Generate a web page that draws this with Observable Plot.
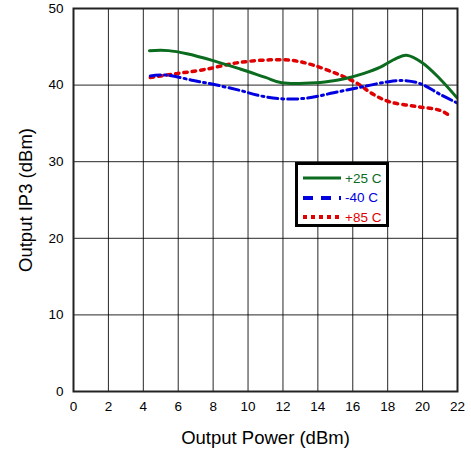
<!DOCTYPE html>
<html><head><meta charset="utf-8">
<script src="https://cdn.jsdelivr.net/npm/d3@7"></script>
<script src="https://cdn.jsdelivr.net/npm/@observablehq/plot@0.6"></script>
<style>
body{margin:0;background:#fff;font-family:"Liberation Sans",Arial,sans-serif;}
#wrap{position:relative;width:471px;height:450px;}
#legend{position:absolute;left:295px;top:162px;width:88px;height:59px;border:3px solid #000;background:#fff;font-size:13.5px;}
.row{position:absolute;left:0;height:16px;display:flex;align-items:center;}
.row svg{margin-left:5px;margin-right:4px;}
</style></head>
<body><div id="wrap"><div id="chart"></div>
<div id="legend"></div></div>
<script>
const seriesNames = ["+25 C", "-40 C", "+85 C"];
const seriesColors = ["#0b6b1e", "#0000e0", "#e00000"];
const xTicks = [0,2,4,6,8,10,12,14,16,18,20,22];
const yTicks = [0,10,20,30,40,50];

const power25 = [4.35, 5.44, 6.5, 8.0, 9.55, 11.0, 11.93, 13.9, 15.0, 15.65, 16.6, 17.55, 18.5, 19.08, 20.0, 21.0, 21.95];
const ip3_25  = [44.5, 44.5, 44.1, 43.2, 42.1, 41.0, 40.3, 40.3, 40.6, 40.9, 41.5, 42.3, 43.5, 43.9, 42.9, 40.8, 38.4];

const powerM40 = [4.4, 5.35, 6.87, 8.0, 9.55, 10.7, 12.0, 13.36, 14.9, 16.4, 17.94, 18.9, 19.85, 21.0, 21.95];
const ip3M40   = [41.2, 41.3, 40.6, 40.1, 39.3, 38.6, 38.2, 38.3, 39.0, 39.7, 40.4, 40.6, 40.2, 38.8, 37.7];

const power85 = [4.4, 5.9, 7.44, 9.35, 11.26, 12.6, 13.74, 15.17, 16.2, 17.17, 18.13, 19.66, 21.0, 21.56];
const ip3_85  = [41.0, 41.5, 42.0, 42.9, 43.3, 43.2, 42.6, 41.4, 40.3, 38.8, 37.8, 37.2, 36.7, 36.0];

const d25 = power25.map((x,i)=>({x, y: ip3_25[i]}));
const dM40 = powerM40.map((x,i)=>({x, y: ip3M40[i]}));
const d85 = power85.map((x,i)=>({x, y: ip3_85[i]}));

const chart = Plot.plot({
  width: 471, height: 450,
  marginLeft: 73, marginRight: 14, marginTop: 8, marginBottom: 59,
  style: {fontFamily: '"Liberation Sans", Arial, sans-serif', fontSize: "13.5px", color: "#000", background: "#fff"},
  x: {domain: [0,22], ticks: xTicks, tickSize: 0, tickPadding: 10, label: "Output Power (dBm)", labelAnchor: "center", labelOffset: 52},
  y: {domain: [0,50], ticks: yTicks, tickSize: 0, tickPadding: 10, label: "Output IP3 (dBm)", labelAnchor: "center", labelOffset: 55},
  marks: [
    Plot.gridX(xTicks, {stroke: "#000", strokeOpacity: 0.85, strokeWidth: 1}),
    Plot.gridY(yTicks, {stroke: "#000", strokeOpacity: 0.85, strokeWidth: 1}),
    Plot.line(d85, {x: "x", y: "y", stroke: seriesColors[2], strokeWidth: 3.5, strokeDasharray: "3.5,5", curve: "catmull-rom"}),
    Plot.line(dM40, {x: "x", y: "y", stroke: seriesColors[1], strokeWidth: 3, strokeDasharray: "10,4,2,4", curve: "catmull-rom"}),
    Plot.line(d25, {x: "x", y: "y", stroke: seriesColors[0], strokeWidth: 3, curve: "catmull-rom"}),
    Plot.frame({stroke: "#222", strokeWidth: 2})
  ]
});
document.getElementById("chart").appendChild(chart);
chart.querySelectorAll('[aria-label="x-axis label"] text, [aria-label="y-axis label"] text').forEach(t=>{
  t.style.fontSize = "18.5px";
  t.textContent = t.textContent.replace(/\s*[→↑←↓]\s*/g, "").trim();
});

const dashes = [null, "10,8", "4,4"];
const legend = document.getElementById("legend");
seriesNames.forEach((n,i)=>{
  const row = document.createElement("div");
  row.className = "row";
  row.style.top = (5 + i*19.5) + "px";
  row.innerHTML = `<svg width="38" height="6"><line x1="0" x2="38" y1="3" y2="3" stroke="${seriesColors[i]}" stroke-width="${i==0?3:4}" ${dashes[i]?`stroke-dasharray="${dashes[i]}"`:""}/></svg><span style="color:${seriesColors[i]}">${n}</span>`;
  legend.appendChild(row);
});
</script></body></html>
